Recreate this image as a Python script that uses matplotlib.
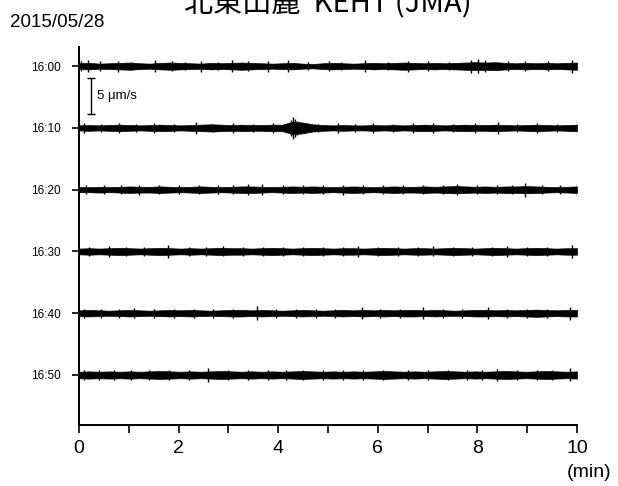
import matplotlib
matplotlib.use("Agg")
import matplotlib.pyplot as plt
import numpy as np

# trace start times (minutes after 16:00) and labels
offsets = [0, 10, 20, 30, 40, 50]
labels = ["16:00", "16:10", "16:20", "16:30", "16:40", "16:50"]

# core envelope half-amplitude (um/s), one value every 0.2 min
env_1600 = [0.4, 0.45, 0.35, 0.4, 0.45, 0.5, 0.4, 0.35, 0.45, 0.5,
            0.45, 0.4, 0.35, 0.45, 0.4, 0.45, 0.5, 0.45, 0.4, 0.35,
            0.4, 0.45, 0.35, 0.3, 0.4, 0.45, 0.4, 0.35, 0.4, 0.45,
            0.4, 0.45, 0.5, 0.45, 0.4, 0.45, 0.4, 0.45, 0.5, 0.55,
            0.5, 0.55, 0.45, 0.4, 0.45, 0.4, 0.45, 0.4, 0.45, 0.5]
env_1610 = [0.35, 0.4, 0.35, 0.4, 0.45, 0.4, 0.35, 0.4, 0.45, 0.4,
            0.35, 0.4, 0.45, 0.5, 0.45, 0.4, 0.45, 0.4, 0.4, 0.45,
            0.45, 0.85, 0.75, 0.5, 0.4, 0.35, 0.4, 0.35, 0.35, 0.4,
            0.35, 0.4, 0.35, 0.4, 0.45, 0.4, 0.35, 0.4, 0.45, 0.4,
            0.4, 0.45, 0.4, 0.35, 0.4, 0.45, 0.4, 0.35, 0.4, 0.45]
env_1620 = [0.35, 0.35, 0.4, 0.35, 0.4, 0.45, 0.4, 0.4, 0.45, 0.4,
            0.35, 0.4, 0.45, 0.4, 0.35, 0.4, 0.45, 0.45, 0.4, 0.35,
            0.4, 0.45, 0.4, 0.45, 0.4, 0.35, 0.4, 0.45, 0.4, 0.35,
            0.4, 0.45, 0.4, 0.4, 0.45, 0.4, 0.45, 0.5, 0.45, 0.4,
            0.45, 0.4, 0.45, 0.45, 0.5, 0.45, 0.4, 0.35, 0.4, 0.45]
env_1630 = [0.4, 0.45, 0.4, 0.45, 0.5, 0.45, 0.4, 0.45, 0.5, 0.45,
            0.4, 0.45, 0.4, 0.45, 0.5, 0.45, 0.45, 0.4, 0.45, 0.5,
            0.45, 0.4, 0.45, 0.5, 0.45, 0.4, 0.45, 0.45, 0.4, 0.45,
            0.5, 0.45, 0.4, 0.45, 0.45, 0.4, 0.45, 0.5, 0.45, 0.4,
            0.45, 0.5, 0.45, 0.4, 0.45, 0.5, 0.45, 0.4, 0.45, 0.45]
env_1640 = [0.4, 0.45, 0.4, 0.35, 0.4, 0.45, 0.4, 0.35, 0.4, 0.45,
            0.4, 0.45, 0.4, 0.35, 0.4, 0.45, 0.45, 0.4, 0.45, 0.4,
            0.35, 0.4, 0.45, 0.4, 0.35, 0.4, 0.45, 0.4, 0.45, 0.4,
            0.45, 0.4, 0.45, 0.45, 0.4, 0.45, 0.4, 0.35, 0.4, 0.45,
            0.45, 0.4, 0.45, 0.4, 0.45, 0.5, 0.45, 0.4, 0.45, 0.45]
env_1650 = [0.45, 0.5, 0.45, 0.5, 0.45, 0.5, 0.45, 0.5, 0.55, 0.5,
            0.45, 0.5, 0.45, 0.5, 0.55, 0.5, 0.45, 0.5, 0.45, 0.5,
            0.45, 0.5, 0.55, 0.5, 0.45, 0.5, 0.45, 0.5, 0.45, 0.5,
            0.55, 0.5, 0.45, 0.5, 0.45, 0.5, 0.55, 0.5, 0.45, 0.5,
            0.45, 0.5, 0.55, 0.5, 0.45, 0.5, 0.55, 0.5, 0.45, 0.5]
envelopes = [env_1600, env_1610, env_1620, env_1630, env_1640, env_1650]

# isolated spikes: minute and half amplitude (um/s)
spike_t_1600 = [0.05, 0.19, 0.42, 0.79, 1.06, 1.53, 1.86, 2.13, 2.46, 2.8, 3.07, 3.4, 3.8, 4.2,
                4.6, 5.01, 5.27, 5.74, 6.21, 6.61, 7.01, 7.42, 7.88, 8.02, 8.15, 8.62, 8.96,
                9.42, 9.89]
spike_a_1600 = [0.7, 0.8, 0.65, 0.75, 0.6, 0.8, 0.65, 0.6, 0.75, 0.6, 0.8, 0.65, 0.75, 0.8,
                0.6, 0.65, 0.6, 0.8, 0.6, 0.75, 0.65, 0.6, 0.9, 0.95, 0.85, 0.65, 0.7,
                0.65, 0.9]
spike_t_1610 = [0.1, 0.45, 0.8, 1.15, 1.5, 1.9, 2.35, 2.7, 3.1, 3.5, 3.9, 4.26, 4.3, 4.34,
                4.38, 4.44, 4.8, 5.2, 5.55, 5.9, 6.3, 6.7, 7.1, 7.5, 7.95, 8.42, 8.8, 9.2,
                9.6, 9.99]
spike_a_1610 = [0.65, 0.6, 0.75, 0.6, 0.65, 0.6, 0.8, 0.6, 0.65, 0.6, 0.65, 1.1, 1.55, 1.3,
                1.0, 0.8, 0.6, 0.65, 0.6, 0.7, 0.6, 0.65, 0.7, 0.6, 0.65, 0.85, 0.6, 0.65,
                0.6, 0.9]
spike_t_1620 = [0.15, 0.5, 0.85, 1.2, 1.6, 2.0, 2.4, 2.8, 3.1, 3.4, 3.68, 4.1, 4.5, 4.9,
                5.3, 5.7, 6.1, 6.5, 6.9, 7.3, 7.6, 8.0, 8.4, 8.7, 8.96, 9.3, 9.65, 9.99]
spike_a_1620 = [0.6, 0.65, 0.6, 0.7, 0.6, 0.65, 0.6, 0.65, 0.6, 0.8, 0.8, 0.6, 0.65, 0.6,
                0.7, 0.6, 0.65, 0.6, 0.65, 0.6, 0.75, 0.6, 0.65, 0.6, 0.95, 0.6, 0.65, 0.85]
spike_t_1630 = [0.2, 0.6, 0.95, 1.3, 1.79, 2.2, 2.55, 2.9, 3.3, 3.7, 4.1, 4.5, 4.9, 5.3,
                5.6, 6.0, 6.4, 6.8, 7.1, 7.5, 7.9, 8.3, 8.6, 9.0, 9.4, 9.9]
spike_a_1630 = [0.65, 0.75, 0.6, 0.65, 0.95, 0.6, 0.65, 0.7, 0.6, 0.65, 0.6, 0.65, 0.6, 0.65,
                0.8, 0.6, 0.65, 0.6, 0.7, 0.6, 0.65, 0.6, 0.75, 0.65, 0.6, 0.85]
spike_t_1640 = [0.1, 0.45, 0.8, 1.1, 1.5, 1.9, 2.3, 2.7, 3.1, 3.57, 3.95, 4.35, 4.75, 5.15,
                5.68, 6.05, 6.45, 6.9, 7.3, 7.7, 8.22, 8.6, 9.0, 9.4, 9.85]
spike_a_1640 = [0.6, 0.65, 0.6, 0.7, 0.6, 0.65, 0.6, 0.65, 0.6, 0.95, 0.6, 0.65, 0.6, 0.65,
                0.85, 0.6, 0.65, 0.8, 0.6, 0.65, 0.8, 0.6, 0.65, 0.6, 0.9]
spike_t_1650 = [0.1, 0.4, 0.7, 1.05, 1.4, 1.8, 2.2, 2.6, 3.0, 3.4, 3.8, 4.15, 4.5, 4.9,
                5.3, 5.7, 6.1, 6.6, 7.0, 7.4, 7.8, 8.1, 8.4, 8.8, 9.2, 9.5, 9.85]
spike_a_1650 = [0.7, 0.65, 0.75, 0.7, 0.65, 0.7, 0.65, 0.95, 0.7, 0.65, 0.7, 0.65, 0.75, 0.65,
                0.7, 0.65, 0.7, 0.75, 0.65, 0.7, 0.65, 0.7, 0.8, 0.65, 0.7, 0.65, 0.9]
spike_times = [spike_t_1600, spike_t_1610, spike_t_1620, spike_t_1630, spike_t_1640, spike_t_1650]
spike_amps = [spike_a_1600, spike_a_1610, spike_a_1620, spike_a_1630, spike_a_1640, spike_a_1650]

duration = 10.0
scale_um = 5.0
amp = 1.165  # y units (minutes) per um/s

fig = plt.figure(figsize=(6.18, 4.86), dpi=100)
ax = fig.add_axes([0.1278, 0.1255, 0.8059, 0.7778])

for off, env, st, sa in zip(offsets, envelopes, spike_times, spike_amps):
    e = np.array(env) * amp
    t = np.linspace(0, duration, len(e))
    ax.fill_between(t, off - e, off + e, color="black", lw=0.5, edgecolor="black")
    sa = np.array(sa) * amp
    ax.vlines(st, off - sa, off + sa, color="black", lw=1.0)

# scale bar
ax.errorbar([0.24], [4.85], yerr=[scale_um * amp / 2], color="black",
            capsize=3, elinewidth=1, capthick=1)
ax.text(0.36, 4.85, "5 μm/s", fontsize=9.5, va="center", ha="left",
        family=["Liberation Sans", "DejaVu Sans"])

ax.set_xlim(0, duration)
ax.set_ylim(58.1, -3.1)
ax.set_yticks(offsets)
ax.set_yticklabels(labels, fontsize=8.5, family="Liberation Sans")
ax.set_xticks([0, 2, 4, 6, 8, 10])
ax.set_xticklabels(["0", "2", "4", "6", "8", "10"], fontsize=14, family="Liberation Sans")
ax.set_xticks([1, 3, 5, 7, 9], minor=True)
ax.tick_params(axis="x", which="both", direction="out", length=6, width=1.2, pad=5)
ax.tick_params(axis="y", direction="out", length=5, width=1.2, pad=8)
for s in ["top", "right"]:
    ax.spines[s].set_visible(False)
for s in ["left", "bottom"]:
    ax.spines[s].set_linewidth(1.4)

fig.text(0.99, 0.018, "(min)", fontsize=14, ha="right", va="baseline", family="Liberation Sans")
fig.text(0.016, 0.945, "2015/05/28", fontsize=13.5, ha="left", va="baseline", family="Liberation Sans")
fig.text(0.531, 0.975, "北東山麓  KEHT (JMA)", fontsize=21, ha="center", va="baseline",
         family=["Noto Sans CJK JP", "DejaVu Sans"])

fig.savefig("out.png", dpi=100)
